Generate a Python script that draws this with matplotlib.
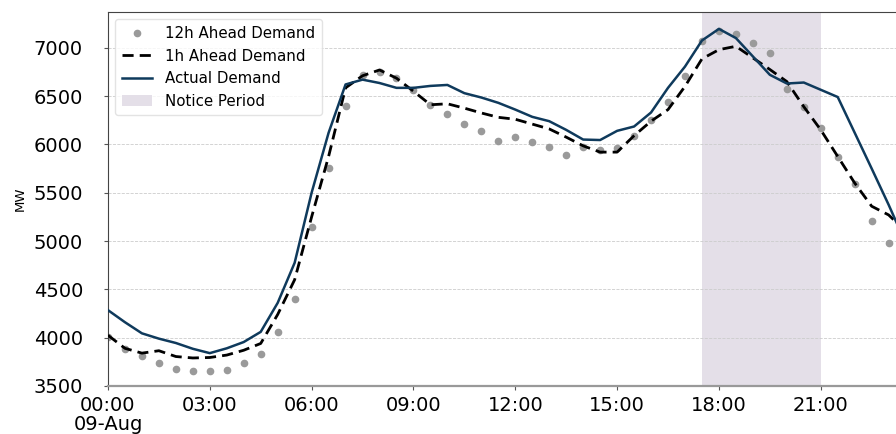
import numpy as np
import pandas as pd
import matplotlib
matplotlib.use("Agg")
import matplotlib.pyplot as plt
import matplotlib.dates as mdates

# half-hourly demand, MW
times = pd.date_range("2019-08-09 00:00", periods=48, freq="30min")

actual = [4285, 4160, 4045, 3990, 3945, 3885, 3840, 3890, 3955, 4060,
          4360, 4775, 5500, 6120, 6620, 6670, 6635, 6585, 6585, 6605,
          6615, 6530, 6485, 6430, 6360, 6285, 6240, 6150, 6050, 6045,
          6140, 6185, 6330, 6585, 6805, 7075, 7195, 7100, 6910, 6720,
          6630, 6640, 6565, 6490, 6120, 5750, 5375, 4980]

ahead_1h = [4025, 3890, 3840, 3865, 3805, 3790, 3795, 3820, 3870, 3940,
            4240, 4600, 5250, 5875, 6585, 6710, 6770, 6685, 6550, 6410,
            6420, 6375, 6325, 6280, 6260, 6210, 6160, 6075, 5985, 5920,
            5920, 6090, 6240, 6360, 6600, 6885, 6980, 7015, 6895, 6775,
            6650, 6390, 6150, 5875, 5600, 5360, 5270, 5100]

ahead_12h = [4010, 3880, 3810, 3735, 3675, 3652, 3652, 3662, 3738, 3830,
             4062, 4400, 5150, 5755, 6392, 6720, 6748, 6690, 6560, 6412,
             6312, 6215, 6141, 6035, 6078, 6023, 5972, 5885, 5968, 5944,
             5961, 6089, 6255, 6438, 6710, 7072, 7169, 7145, 7048, 6945,
             6573, 6382, 6168, 5874, 5589, 5209, 4978, 4800]

notice_start = pd.Timestamp("2019-08-09 17:30")
notice_end = pd.Timestamp("2019-08-09 21:00")

fig = plt.figure(figsize=(8.96, 4.34), dpi=100)
ax = fig.add_axes([0.1205, 0.1106, 0.8795, 0.8618])

ax.axvspan(notice_start, notice_end, color="#e4dfe8", lw=0, label="Notice Period", zorder=0)
ax.plot(times, ahead_12h, ls="none", marker="o", ms=4.5, color="#9a9a9a",
        label="12h Ahead Demand", zorder=2)
ax.plot(times, ahead_1h, ls=(0, (4, 2.2)), lw=2, color="black",
        label="1h Ahead Demand", zorder=3)
ax.plot(times, actual, lw=1.8, color="#0f3a5c", label="Actual Demand", zorder=4)

ax.set_xlim(times[0], pd.Timestamp("2019-08-09 23:13"))
ax.set_ylim(3500, 7370)
ax.set_yticks(np.arange(3500, 7001, 500))

ax.xaxis.set_major_locator(mdates.HourLocator(byhour=range(0, 24, 3)))
def fmt(x, pos):
    d = mdates.num2date(x)
    s = d.strftime("%H:%M")
    if d.hour == 0:
        s += "\n" + d.strftime("%d-%b")
    return s
ax.xaxis.set_major_formatter(plt.FuncFormatter(fmt))

ax.tick_params(axis="both", labelsize=14, length=3, color="#555555")
ax.tick_params(axis="y", pad=15)
ax.tick_params(axis="x", pad=4)
for lab in ax.get_xticklabels():
    lab.set_linespacing(1.0)
ax.set_ylabel("MW", fontsize=9.5)
ax.yaxis.set_label_coords(-0.103, 0.5)

ax.grid(axis="y", ls="--", lw=0.6, color="#cccccc")
ax.spines["right"].set_visible(False)
ax.spines["top"].set_color("#444444")
ax.spines["left"].set_color("#444444")
ax.spines["bottom"].set_color("#999999")
ax.spines["bottom"].set_linewidth(1.6)

handles, labels = ax.get_legend_handles_labels()
order = [1, 2, 3, 0]
leg = ax.legend([handles[i] for i in order], [labels[i] for i in order],
                loc="upper left", fontsize=10.8, frameon=True, borderaxespad=0.5,
                handlelength=2.0, handletextpad=0.85, labelspacing=0.5,
                borderpad=0.45)
leg.get_frame().set_edgecolor("#dddddd")

fig.savefig("out.png", dpi=100)
